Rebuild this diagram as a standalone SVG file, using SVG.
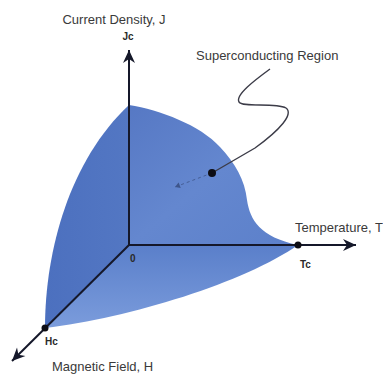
<svg xmlns="http://www.w3.org/2000/svg" width="383" height="374" viewBox="0 0 383 374">
  <defs>
    <style>
      .lbl { font-family: "Liberation Sans", Arial, sans-serif; font-size: 13px; fill: #3a3a3a; }
      .sym { font-family: "Liberation Sans", Arial, sans-serif; font-size: 10px; font-weight: bold; fill: #2a2a2a; }
      .axis { stroke: #15182a; stroke-width: 2; fill: none; }
      .dot { fill: #0d0d14; }
    </style>
    <marker id="arr" markerUnits="userSpaceOnUse" markerWidth="16" markerHeight="14" viewBox="-14 -7 16 14" refX="0" refY="0" orient="auto">
      <path d="M0,0 L-13,-6 L-9,0 L-13,6 Z" fill="#15182a"/>
    </marker>
    <marker id="small" markerUnits="userSpaceOnUse" markerWidth="8" markerHeight="8" viewBox="-6 -4 8 8" refX="0" refY="0" orient="auto">
      <path d="M0,0 L-5,-3 L-5,3 Z" fill="#2f4270"/>
    </marker>
    <linearGradient id="gTop" x1="0" y1="0" x2="1" y2="1">
      <stop offset="0" stop-color="#5678c4"/>
      <stop offset="0.5" stop-color="#6487cf"/>
      <stop offset="1" stop-color="#5c80ca"/>
    </linearGradient>
    <linearGradient id="gLeft" x1="0" y1="0" x2="1" y2="0">
      <stop offset="0" stop-color="#4c70bf"/>
      <stop offset="1" stop-color="#5377c3"/>
    </linearGradient>
    <linearGradient id="gBot" x1="0" y1="0" x2="0" y2="1">
      <stop offset="0" stop-color="#5a7fca"/>
      <stop offset="1" stop-color="#7b9cdc"/>
    </linearGradient>
  </defs>

  <g id="region">
    <path id="face-jt" d="M129,105 C160,110 200,125 220,147 C235,163 245,180 247,200 C250,220 260,237 298,245 L129,245 Z" fill="url(#gTop)"/>
    <path id="face-jh" d="M129,105 L129,245 L45,328 C45,250 70,160 129,105 Z" fill="url(#gLeft)"/>
    <path id="face-ht" d="M129,245 L298,245 C245,282 130,318 45,328 Z" fill="url(#gBot)"/>
  </g>

  <g id="connectors">
    <line id="axis-j" class="axis" x1="129" y1="245" x2="129" y2="50" marker-end="url(#arr)"/>
    <line id="axis-t" class="axis" x1="129" y1="245" x2="356" y2="245" marker-end="url(#arr)"/>
    <line id="axis-h" class="axis" x1="129" y1="245" x2="12" y2="361" marker-end="url(#arr)"/>
    <path id="leader" d="M270,69 C255,80 235,95 239,102 C243,108 275,102 286,108 C294,114 280,130 255,148 L212,173" fill="none" stroke="#3c3c48" stroke-width="1.4"/>
    <line id="leader-dash" x1="212" y1="173" x2="175" y2="187" stroke="#3a4f80" stroke-width="1" stroke-dasharray="3,3" opacity="0.7" marker-end="url(#small)"/>
  </g>

  <g id="points">
    <circle id="tc-dot" class="dot" cx="298" cy="245" r="3.5"/>
    <circle id="hc-dot" class="dot" cx="45" cy="328" r="3.5"/>
    <circle id="sr-dot" class="dot" cx="212" cy="173" r="4"/>
  </g>

  <g id="labels">
    <text id="t-j" class="lbl" x="114" y="24" text-anchor="middle">Current Density, J</text>
    <text id="t-jc" class="sym" x="128" y="40" text-anchor="middle">Jc</text>
    <text id="t-sr" class="lbl" x="196" y="60">Superconducting Region</text>
    <text id="t-t" class="lbl" x="295" y="232">Temperature, T</text>
    <text id="t-tc" class="sym" x="300" y="268">Tc</text>
    <text id="t-o" class="sym" x="130" y="262">0</text>
    <text id="t-hc" class="sym" x="45" y="345">Hc</text>
    <text id="t-h" class="lbl" x="52" y="371">Magnetic Field, H</text>
  </g>
</svg>
